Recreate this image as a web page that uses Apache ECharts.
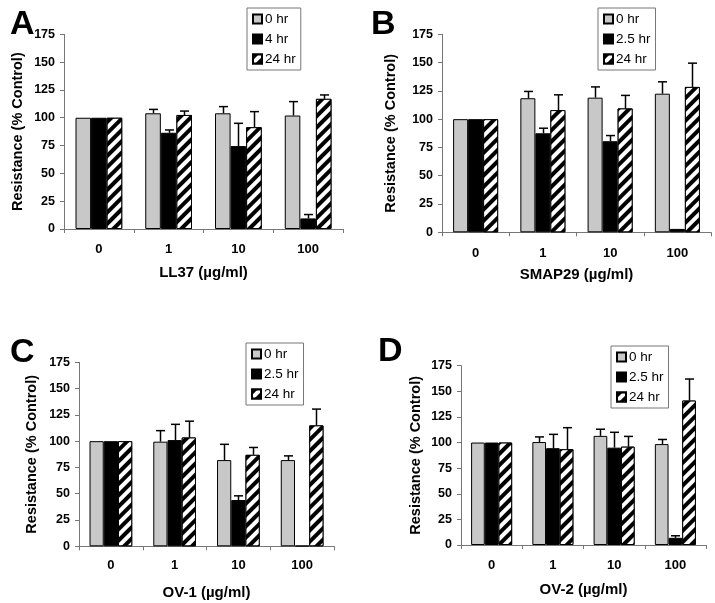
<!DOCTYPE html>
<html>
<head>
<meta charset="utf-8">
<script src="https://cdn.jsdelivr.net/npm/echarts@6/dist/echarts.min.js"></script>
<style>html,body{margin:0;padding:0;background:#fff}#c{width:715px;height:603px}</style>
</head>
<body>
<div id="c"></div>
<script>
// ---- data ----
const categories = ['0', '1', '10', '100'];
const yTicks = [0, 25, 50, 75, 100, 125, 150, 175];

const panelLetters = ['A', 'B', 'C', 'D'];
const xTitles = ['LL37 (\u00b5g/ml)', 'SMAP29 (\u00b5g/ml)', 'OV-1 (\u00b5g/ml)', 'OV-2 (\u00b5g/ml)'];
const legendA = ['0 hr', '4 hr', '24 hr'];
const legendB = ['0 hr', '2.5 hr', '24 hr'];
const legendC = ['0 hr', '2.5 hr', '24 hr'];
const legendD = ['0 hr', '2.5 hr', '24 hr'];

// Panel A (LL37)
const A_0hr = [100, 104, 104, 102];
const A_0hrErr = [0, 3.5, 6, 12.5];
const A_mid = [100, 86.5, 74.5, 9.5];
const A_midErr = [0, 2.5, 20.5, 3.5];
const A_24hr = [100, 102.5, 91.5, 117];
const A_24hrErr = [0, 3.5, 14, 3.5];
// Panel B (SMAP29)
const B_0hr = [100, 118.5, 119, 122.5];
const B_0hrErr = [0, 6, 9.5, 10.5];
const B_mid = [100, 87.5, 80.5, 3];
const B_midErr = [0, 4.5, 5, 0];
const B_24hr = [100, 108, 109.5, 128.5];
const B_24hrErr = [0, 13.5, 11.5, 21];
// Panel C (OV-1)
const C_0hr = [100, 99.5, 82, 82];
const C_0hrErr = [0, 10.5, 15, 4];
const C_mid = [100, 101, 44, 0.6];
const C_midErr = [0, 15, 4, 0];
const C_24hr = [100, 103.5, 87, 115];
const C_24hrErr = [0, 15.5, 7, 15.5];
// Panel D (OV-2)
const D_0hr = [100, 100.5, 106.5, 98.5];
const D_0hrErr = [0, 5, 6.5, 4.5];
const D_mid = [100, 94.5, 95, 7];
const D_midErr = [0, 13.5, 15, 2];
const D_24hr = [100, 93.5, 96, 141];
const D_24hrErr = [0, 21, 10, 21];

// ---- layout ----
const FONT = 'Liberation Sans, Arial, Helvetica, sans-serif';
const grids = [
  {left: 64, top: 34.3, width: 279, height: 194.7},
  {left: 442, top: 34.3, width: 269, height: 198},
  {left: 79, top: 362.3, width: 255, height: 184},
  {left: 461, top: 365.7, width: 245, height: 179.3}
];
const yNameGaps = [39, 44, 40, 38];
const xNameGaps = [36, 35, 39, 37];
const xLabelMargins = [14, 15, 13, 14];
const letterPos = [[5, 3], [366, 3], [5, 331], [373, 330]];
const legendPos = [[247, 8], [598, 8], [246, 343], [611, 346]];
const CAT_GAP = 0.33;

const panels = [
  {legend: legendA, means: [A_0hr, A_mid, A_24hr], errs: [A_0hrErr, A_midErr, A_24hrErr]},
  {legend: legendB, means: [B_0hr, B_mid, B_24hr], errs: [B_0hrErr, B_midErr, B_24hrErr]},
  {legend: legendC, means: [C_0hr, C_mid, C_24hr], errs: [C_0hrErr, C_midErr, C_24hrErr]},
  {legend: legendD, means: [D_0hr, D_mid, D_24hr], errs: [D_0hrErr, D_midErr, D_24hrErr]}
];

const styles = [
  {color: '#c8c8c8', borderColor: '#000', borderWidth: 1},
  {color: '#000', borderColor: '#000', borderWidth: 1},
  {color: '#fff', borderColor: '#000', borderWidth: 1,
   decal: {symbol: 'rect', symbolSize: 1, dashArrayX: [1, 0], dashArrayY: [3.5, 3.5],
           rotation: -Math.PI / 4, color: '#000', backgroundColor: '#fff'}}
];

const option = {
  animation: false,
  backgroundColor: '#fff',
  textStyle: {fontFamily: FONT},
  title: [], legend: [], grid: [], xAxis: [], yAxis: [], series: []
};

panels.forEach((p, i) => {
  option.grid.push(grids[i]);
  option.title.push({
    text: panelLetters[i], left: letterPos[i][0], top: letterPos[i][1],
    textStyle: {fontSize: 34, fontWeight: 'bold', color: '#000', fontFamily: FONT}
  });
  option.legend.push({
    orient: 'vertical', left: legendPos[i][0], top: legendPos[i][1],
    data: p.legend.map(n => ({name: n, icon: 'rect'})), itemWidth: 9, itemHeight: 9, itemGap: 6,
    backgroundColor: '#fff', borderColor: '#777', borderWidth: 1, borderRadius: 0,
    padding: [4, 5, 4, 5], selectedMode: false,
    textStyle: {fontSize: 13.5, color: '#000', fontFamily: FONT, lineHeight: 14, padding: [0, 0, 0, -2]}
  });
  option.xAxis.push({
    type: 'category', gridIndex: i, data: categories,
    name: xTitles[i], nameLocation: 'middle', nameGap: xNameGaps[i],
    nameTextStyle: {fontSize: 15, fontWeight: 'bold', color: '#000', fontFamily: FONT},
    axisLine: {lineStyle: {color: '#777', width: 1}},
    axisTick: {show: true, length: 4, lineStyle: {color: '#777'}},
    axisLabel: {fontSize: 13, fontWeight: 'bold', color: '#000', margin: xLabelMargins[i], fontFamily: FONT},
    splitLine: {show: false}
  });
  option.yAxis.push({
    type: 'value', gridIndex: i, min: 0, max: 175, interval: 25,
    name: 'Resistance (% Control)', nameLocation: 'middle', nameGap: yNameGaps[i],
    nameTextStyle: {fontSize: 14.5, fontWeight: 'bold', color: '#000', fontFamily: FONT},
    axisLine: {show: true, lineStyle: {color: '#777', width: 1}},
    axisTick: {show: true, length: 4, lineStyle: {color: '#777'}},
    axisLabel: {fontSize: 12.5, fontWeight: 'bold', color: '#000', margin: 9, fontFamily: FONT,
      formatter: v => (yTicks.indexOf(v) >= 0 ? String(v) : '')},
    splitLine: {show: false}
  });
  p.legend.forEach((name, k) => {
    option.series.push({
      type: 'bar', name: name, xAxisIndex: i, yAxisIndex: i,
      data: p.means[k], barGap: '0%', barCategoryGap: (CAT_GAP * 100) + '%',
      itemStyle: styles[k], emphasis: {disabled: true}, z: 2
    });
  });
  const errData = [];
  for (let k = 0; k < 3; k++) {
    categories.forEach((c, j) => {
      errData.push([j, p.means[k][j], p.errs[k][j], k]);
    });
  }
  option.series.push({
    type: 'custom', name: 'err' + i, xAxisIndex: i, yAxisIndex: i, z: 5,
    data: errData, encode: {x: 0, y: 1},
    renderItem: function (params, api) {
      const cat = api.value(0), mean = api.value(1), sd = api.value(2), k = api.value(3);
      if (!sd) return null;
      const base = api.coord([cat, mean]);
      const top = api.coord([cat, mean + sd]);
      const band = api.size([1, 0])[0];
      const bw = band * (1 - CAT_GAP) / 3;
      const x = Math.round(base[0] + (k - 1) * bw) + 0.5;
      const st = {stroke: '#000', lineWidth: 1.5};
      return {
        type: 'group',
        children: [
          {type: 'line', shape: {x1: x, y1: base[1], x2: x, y2: top[1]}, style: st},
          {type: 'line', shape: {x1: x - 4.5, y1: top[1], x2: x + 4.5, y2: top[1]}, style: st}
        ]
      };
    }
  });
});

const chart = echarts.init(document.getElementById('c'), null, {renderer: 'canvas'});
chart.setOption(option);
</script>
</body>
</html>
